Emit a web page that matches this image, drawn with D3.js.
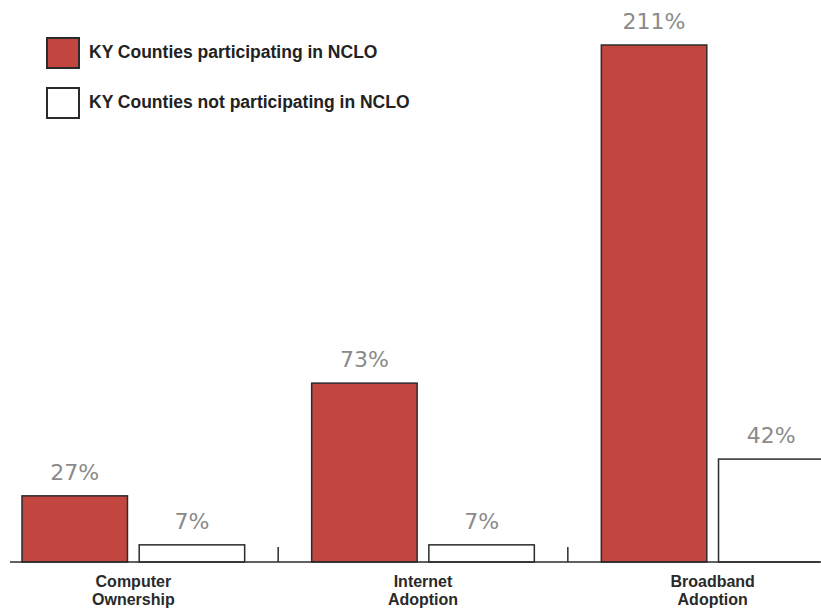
<!DOCTYPE html>
<html lang="en">

<head>
    <meta charset="UTF-8">
    <title>NCLO participation</title>
    <script src="https://d3js.org/d3.v7.min.js"></script>
    <style>
        body {
            background-color: #fff;
            margin: 0;
            overflow: hidden;
        }
    </style>
</head>

<body>
    <script>
        // Chart data
        const categories = [["Computer", "Ownership"], ["Internet", "Adoption"], ["Broadband", "Adoption"]];
        const seriesNames = ["KY Counties participating in NCLO", "KY Counties not participating in NCLO"];
        const participating = [27, 73, 211];
        const notParticipating = [7, 7, 42];

        const width = 821;
        const height = 613;
        const baseline = 562;

        const svg = d3.select("body").append("svg").attr("width", width).attr("height", height);

        const catKeys = categories.map(c => c.join(" "));

        // Group scale (left edge is cropped in the original picture)
        const x0 = d3.scaleBand().domain(catKeys).range([-11.5, 857.5]);
        const x1 = d3.scaleBand().domain(seriesNames)
            .range([33.5, x0.step() - 33.5])
            .paddingInner(0.1);

        const y = d3.scaleLinear().domain([0, 211]).range([baseline, 45]);

        const colors = ["#c2463f", "#ffffff"];

        const rows = catKeys.map((k, i) => ({ key: k, values: [participating[i], notParticipating[i]] }));

        // Bars
        const groups = svg.selectAll("g.group").data(rows).join("g")
            .attr("class", "group")
            .attr("transform", d => `translate(${x0(d.key)},0)`);

        groups.selectAll("rect").data(d => d.values.map((v, j) => ({ name: seriesNames[j], value: v, j })))
            .join("rect")
            .attr("x", d => x1(d.name))
            .attr("y", d => y(d.value))
            .attr("width", x1.bandwidth())
            .attr("height", d => baseline - y(d.value))
            .attr("fill", d => colors[d.j])
            .attr("stroke", "#2b2b2b")
            .attr("stroke-width", 1.5);

        // Value labels
        groups.selectAll("text.val").data(d => d.values.map((v, j) => ({ name: seriesNames[j], value: v })))
            .join("text")
            .attr("class", "val")
            .attr("x", d => x1(d.name) + x1.bandwidth() / 2)
            .attr("y", d => y(d.value) - 16)
            .attr("text-anchor", "middle")
            .attr("font-family", "DejaVu Sans, sans-serif")
            .attr("font-size", "22px")
            .attr("fill", "#8a8a8a")
            .text(d => d.value + "%");

        // Baseline and separator ticks
        svg.append("line")
            .attr("x1", 10).attr("x2", 820)
            .attr("y1", baseline).attr("y2", baseline)
            .attr("stroke", "#2b2b2b").attr("stroke-width", 1.5);

        svg.selectAll("line.sep").data(catKeys.slice(1)).join("line")
            .attr("class", "sep")
            .attr("x1", d => x0(d)).attr("x2", d => x0(d))
            .attr("y1", baseline).attr("y2", baseline - 15)
            .attr("stroke", "#2b2b2b").attr("stroke-width", 1.5);

        // Category labels, two lines each
        const catLabels = svg.selectAll("text.cat").data(categories).join("text")
            .attr("class", "cat")
            .attr("text-anchor", "middle")
            .attr("font-family", "Liberation Sans, Arial, sans-serif")
            .attr("font-weight", "bold")
            .attr("font-size", "16px")
            .attr("fill", "#2a2a2a");

        catLabels.selectAll("tspan").data((d, i) => d.map(t => ({ t, key: catKeys[i] }))).join("tspan")
            .attr("x", d => x0(d.key) + x0.bandwidth() / 2)
            .attr("y", (d, i) => 587 + i * 18)
            .text(d => d.t);

        // Legend
        const legend = svg.selectAll("g.legend").data(seriesNames).join("g")
            .attr("class", "legend")
            .attr("transform", (d, i) => `translate(47,${38 + i * 50})`);

        legend.append("rect")
            .attr("width", 32).attr("height", 30)
            .attr("fill", (d, i) => colors[i])
            .attr("stroke", "#2b2b2b").attr("stroke-width", 2);

        legend.append("text")
            .attr("x", 42).attr("y", 20)
            .attr("font-family", "Liberation Sans, Arial, sans-serif")
            .attr("font-weight", "bold")
            .attr("font-size", "17.5px")
            .attr("fill", "#222")
            .text(d => d);
    </script>
</body>

</html>
